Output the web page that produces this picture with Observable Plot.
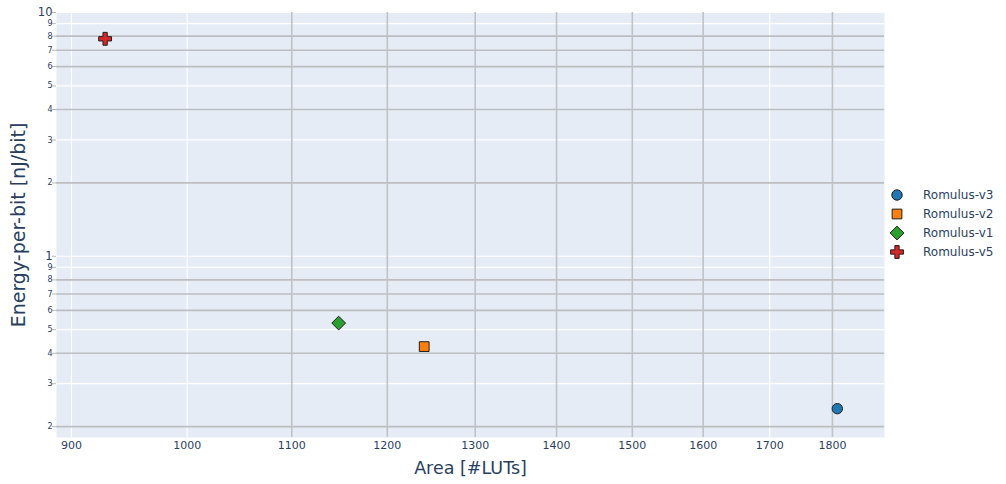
<!DOCTYPE html>
<html><head><meta charset="utf-8">
<script src="https://cdn.jsdelivr.net/npm/d3@7"></script>
<script src="https://cdn.jsdelivr.net/npm/@observablehq/plot@0.6"></script>
<style>
body{margin:0;background:#fff;}
#wrap{position:relative;width:1006px;height:484px;}
.lg{position:absolute;font-family:"DejaVu Sans",Verdana,sans-serif;font-size:12px;color:#2a3f5f;white-space:nowrap;line-height:14px;}
</style></head><body><div id="wrap"></div>
<script>
// ---- data ----
const series = ["Romulus-v3", "Romulus-v2", "Romulus-v1", "Romulus-v5"];
const area = [1808, 1241, 1148, 928];
const energy = [0.237, 0.426, 0.532, 7.8];
const seriesColors = ["#1f77b4", "#ff7f0e", "#2ca02c", "#d62728"];
const seriesSymbols = ["circle", "square", "diamond2", "cross"];
const xTicks = [900, 1000, 1100, 1200, 1300, 1400, 1500, 1600, 1700, 1800];
const yMajorTicks = [1, 10];
const yMinorTicks = [0.2, 0.3, 0.4, 0.5, 0.6, 0.7, 0.8, 0.9, 2, 3, 4, 5, 6, 7, 8, 9];

const rows = series.map((s, i) => ({series: s, area: area[i], energy: energy[i]}));

// ---- style helpers ----
const font = '"DejaVu Sans", Verdana, sans-serif';
const ink = "#2a3f5f";
const rBySymbol = {circle: 5.2, square: 5.5, diamond2: 6.2, cross: 5.4};
const symOf = s => seriesSymbols[series.indexOf(s)];
const grayY = new Set([0.2, 0.4, 0.6, 0.7, 0.8, 2, 4, 6, 7, 8]);
const grayX = new Set([1100, 1200, 1300, 1400, 1500, 1600, 1800]);
const yAll = [...yMinorTicks, ...yMajorTicks];

const chart = Plot.plot({
  width: 1006, height: 484,
  marginLeft: 56, marginRight: 122, marginTop: 12, marginBottom: 47,
  style: {fontFamily: font, background: "white", color: ink},
  x: {type: "log", domain: [887.8, 1887.4]},
  y: {type: "log", domain: [0.1805, 10]},
  color: {domain: series, range: seriesColors},
  symbol: {domain: series, range: seriesSymbols},
  r: {type: "identity"},
  marks: [
    Plot.frame({fill: "#e5ecf6", stroke: "none"}),
    Plot.ruleY(yAll.filter(v => !grayY.has(v)), {stroke: "white", strokeWidth: 1.2}),
    Plot.ruleX(xTicks.filter(v => !grayX.has(v)), {stroke: "white", strokeWidth: 1.2}),
    Plot.ruleY(yAll.filter(v => grayY.has(v)), {stroke: "#bcbec2", strokeWidth: 1.6}),
    Plot.ruleX(xTicks.filter(v => grayX.has(v)), {stroke: "#c0c2c6", strokeWidth: 1.6}),
    Plot.axisY(yAll, {tickSize: 4, stroke: "#b8b8b8", text: null, label: null}),
    Plot.text(yMajorTicks, {y: d => d, frameAnchor: "left", dx: -4, textAnchor: "end", text: d => String(d), fontSize: 11.5, fill: ink}),
    Plot.text(yMinorTicks, {y: d => d, frameAnchor: "left", dx: -4, textAnchor: "end", text: d => String(Math.round(d < 1 ? d * 10 : d)), fontSize: 8, fill: ink}),
    Plot.axisX(xTicks, {tickSize: 0, tickPadding: 4, fontSize: 11, fill: ink, label: null, tickFormat: d => String(d)}),
    Plot.dot(rows, {x: "area", y: "energy", fill: "series", symbol: "series", r: d => rBySymbol[symOf(d.series)], stroke: "#1e1e1e", strokeWidth: 1}),
    Plot.text(["Area [#LUTs]"], {frameAnchor: "bottom", dy: 31, lineAnchor: "middle", textAnchor: "middle", fontSize: 17.5, fill: ink}),
    Plot.text(["Energy-per-bit [nJ/bit]"], {frameAnchor: "left", dx: -38, rotate: -90, lineAnchor: "middle", textAnchor: "middle", fontSize: 19, fill: ink})
  ]
});
const wrap = document.getElementById("wrap");
wrap.appendChild(chart);

// ---- legend ----
const symMap = {circle: d3.symbolCircle, square: d3.symbolSquare, diamond2: d3.symbolDiamond2, cross: d3.symbolCross};
series.forEach((s, i) => {
  const cy = 195 + i * 19;
  const sym = seriesSymbols[i];
  const r = rBySymbol[sym];
  const path = d3.symbol().type(symMap[sym]).size(Math.PI * r * r)();
  const m = document.createElement("div");
  m.className = "lg";
  m.style.left = (897 - 10) + "px";
  m.style.top = (cy - 10) + "px";
  m.innerHTML = `<svg width="20" height="20"><path transform="translate(10,10)" d="${path}" fill="${seriesColors[i]}" stroke="#1e1e1e" stroke-width="1"/></svg>`;
  wrap.appendChild(m);
  const t = document.createElement("div");
  t.className = "lg";
  t.style.left = "923px";
  t.style.top = (cy - 7) + "px";
  t.textContent = s;
  wrap.appendChild(t);
});
</script>
</body></html>
